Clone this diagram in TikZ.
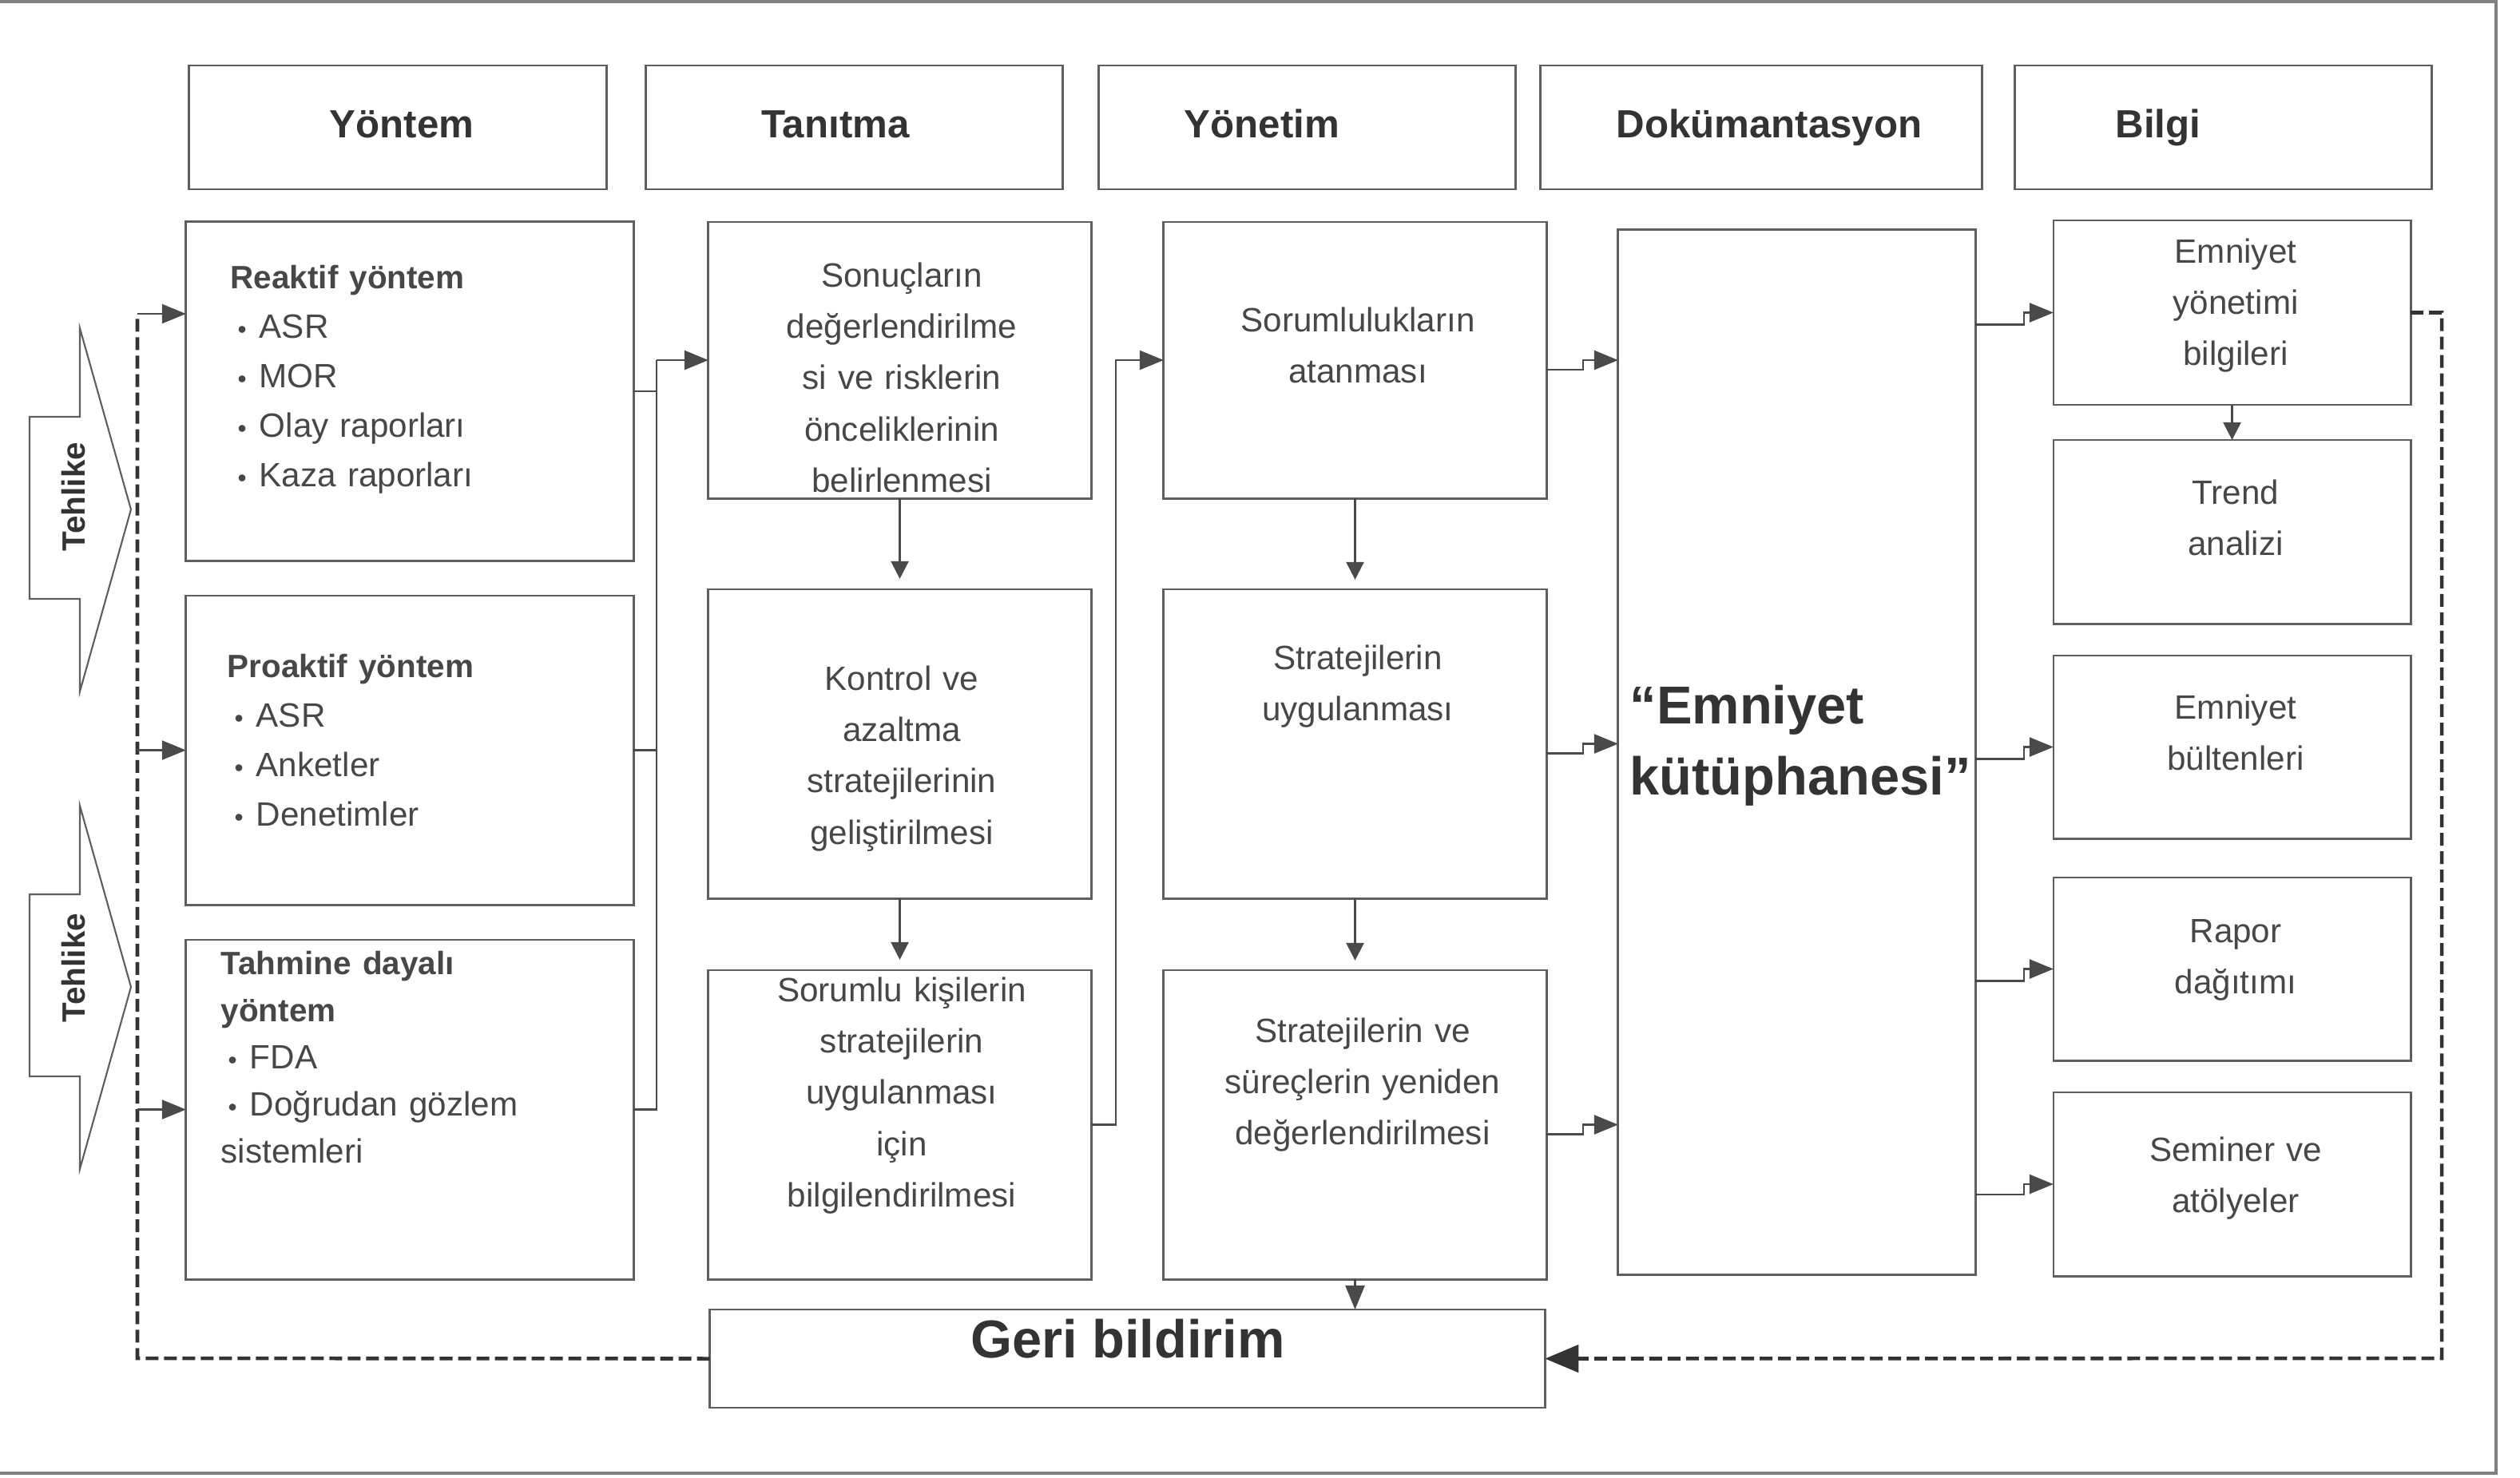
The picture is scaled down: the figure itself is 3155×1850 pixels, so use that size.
\documentclass[tikz,border=0pt]{standalone}
\usepackage{fontspec}
\setmainfont{Liberation Sans}
\usetikzlibrary{arrows.meta}
\definecolor{boxc}{HTML}{5E5E5E}
\definecolor{txt}{HTML}{333333}
\definecolor{txtl}{HTML}{474747}
\definecolor{linec}{HTML}{4A4A4A}
\newcommand{\bul}{\hspace*{0.09cm}{\fontsize{9}{9}\selectfont •}\hspace{0.16cm}}
\begin{document}
\begin{tikzpicture}[x=0.01cm,y=-0.01cm,
  box/.style={draw=boxc,line width=0.8pt,inner sep=0pt,outer sep=0pt},
  hdr/.style={font=\fontsize{14}{16}\selectfont\bfseries,text=txt,inner sep=0pt,anchor=base},
  ltxt/.style={font=\fontsize{12}{17.7}\selectfont,text=txtl,inner sep=0pt,anchor=base west,align=left,text width=5cm},
  ctxt/.style={font=\fontsize{12}{18.3}\selectfont,text=txtl,inner sep=0pt,anchor=base,align=center,text width=4.4cm},
  conn/.style={draw=linec,line width=0.7pt},
  arr/.style={conn,-{Triangle[length=0.3cm,width=0.24cm]}},
  sarr/.style={conn,-{Triangle[length=0.22cm,width=0.22cm]}},
  fb/.style={draw=txt,line width=1.3pt,dash pattern=on 0.16cm off 0.07cm},
  hz/.style={draw=boxc,line width=0.6pt,fill=white},
  big/.style={font=\fontsize{19}{25.5}\selectfont\bfseries,text=txt,inner sep=0pt}
]
\useasboundingbox (0,0) rectangle (3155,1850);
\draw[draw=gray,line width=1.2pt] (0,2) -- (3125,2) -- (3125,1845) -- (0,1845);

% header boxes
\node[box,minimum width=5.22cm,minimum height=1.55cm] (h1) at (498,159.5) {};
\node[box,minimum width=5.21cm,minimum height=1.55cm] (h2) at (1069.5,159.5) {};
\node[box,minimum width=5.21cm,minimum height=1.55cm] (h3) at (1636.5,159.5) {};
\node[box,minimum width=5.52cm,minimum height=1.55cm] (h4) at (2205,159.5) {};
\node[box,minimum width=5.21cm,minimum height=1.55cm] (h5) at (2783.5,159.5) {};
\node[hdr] (h1t) at (503,172) {Yöntem};
\node[hdr] (h2t) at (1046,172) {Tanıtma};
\node[hdr] (h3t) at (1580,172) {Yönetim};
\node[hdr] (h4t) at (2215,172) {Dokümantasyon};
\node[hdr] (h5t) at (2702,172) {Bilgi};

% column 1
\node[box,minimum width=5.6cm,minimum height=4.24cm] (r1) at (513,490) {};
\node[box,minimum width=5.6cm,minimum height=3.87cm] (r2) at (513,939.5) {};
\node[box,minimum width=5.6cm,minimum height=4.25cm] (r3) at (513,1389.5) {};
% column 2
\node[box,minimum width=4.79cm,minimum height=3.46cm] (t1) at (1126.5,451) {};
\node[box,minimum width=4.79cm,minimum height=3.87cm] (t2) at (1126.5,931.5) {};
\node[box,minimum width=4.79cm,minimum height=3.87cm] (t3) at (1126.5,1408.5) {};
% column 3
\node[box,minimum width=4.79cm,minimum height=3.46cm] (m1) at (1696.5,451) {};
\node[box,minimum width=4.79cm,minimum height=3.87cm] (m2) at (1696.5,931.5) {};
\node[box,minimum width=4.79cm,minimum height=3.87cm] (m3) at (1696.5,1408.5) {};
% library
\node[box,minimum width=4.47cm,minimum height=13.08cm] (lib) at (2249.5,942) {};
% column 5
\node[box,minimum width=4.47cm,minimum height=2.31cm] (b1) at (2794.5,391.5) {};
\node[box,minimum width=4.47cm,minimum height=2.30cm] (b2) at (2794.5,666) {};
\node[box,minimum width=4.47cm,minimum height=2.29cm] (b3) at (2794.5,935.5) {};
\node[box,minimum width=4.47cm,minimum height=2.29cm] (b4) at (2794.5,1213.5) {};
\node[box,minimum width=4.47cm,minimum height=2.30cm] (b5) at (2794.5,1483) {};
% feedback box
\node[box,minimum width=10.45cm,minimum height=1.23cm] (geri) at (1411.5,1701.5) {};

% hazard arrows
\draw[hz] (37,522) -- (100,522) -- (100,411) -- (164,638) -- (100,866) -- (100,750) -- (37,750) -- cycle;
\draw[hz] (37,1120) -- (100,1120) -- (100,1009) -- (164,1236) -- (100,1464) -- (100,1348) -- (37,1348) -- cycle;
\node[font=\fontsize{11.5}{13}\selectfont\bfseries,text=txt,rotate=90,inner sep=0pt] (tz1) at (92,622) {Tehlike};
\node[font=\fontsize{11.5}{13}\selectfont\bfseries,text=txt,rotate=90,inner sep=0pt] (tz2) at (92,1212) {Tehlike};

% column 1 texts
\node[ltxt] (r1t) at (288,361) {{\fontsize{11.5}{17.7}\selectfont\bfseries Reaktif yöntem}\\
\bul ASR\\ \bul MOR\\ \bul Olay raporları\\ \bul Kaza raporları};
\node[ltxt] (r2t) at (284,848) {{\fontsize{11.5}{17.5}\selectfont\bfseries Proaktif yöntem}\\
\bul ASR\\ \bul Anketler\\ \bul Denetimler};
\node[ltxt,font=\fontsize{12}{16.8}\selectfont] (r3t) at (276,1220) {{\fontsize{11.5}{16.8}\selectfont\bfseries Tahmine dayalı}\\
{\fontsize{11.5}{16.8}\selectfont\bfseries yöntem}\\
\bul FDA\\ \bul Doğrudan gözlem\\ sistemleri};

% column 2 texts
\node[ctxt] (t1t) at (1129,359) {Sonuçların\\ değerlendirilme\\ si ve risklerin\\ önceliklerinin\\ belirlenmesi};
\node[ctxt] (t2t) at (1129,864) {Kontrol ve\\ azaltma\\ stratejilerinin\\ geliştirilmesi};
\node[ctxt] (t3t) at (1129,1254) {Sorumlu kişilerin\\ stratejilerin\\ uygulanması\\ için\\ bilgilendirilmesi};
% column 3 texts
\node[ctxt] (m1t) at (1700,415) {Sorumlulukların\\ atanması};
\node[ctxt] (m2t) at (1700,838) {Stratejilerin\\ uygulanması};
\node[ctxt] (m3t) at (1706,1305) {Stratejilerin ve\\ süreçlerin yeniden\\ değerlendirilmesi};
% library text
\node[big,anchor=base west,align=left,text width=4.3cm] (libt) at (2040,906) {“Emniyet\\ kütüphanesi”};
% column 5 texts
\node[ctxt,text width=4.2cm] (b1t) at (2799,329) {Emniyet\\ yönetimi\\ bilgileri};
\node[ctxt,text width=4.2cm] (b2t) at (2799,631) {Trend\\ analizi};
\node[ctxt,text width=4.2cm] (b3t) at (2799,900) {Emniyet\\ bültenleri};
\node[ctxt,text width=4.2cm] (b4t) at (2799,1180) {Rapor\\ dağıtımı};
\node[ctxt,text width=4.2cm] (b5t) at (2799,1454) {Seminer ve\\ atölyeler};
% feedback text
\node[big,anchor=base] (gerit) at (1412,1700) {Geri bildirim};

% feedback loop left
\coordinate (fbT) at (172,393);
\coordinate (fbL) at (172,1701);
\draw[fb] (geri.west) -- (fbL) -- (fbT);
\draw[arr] (fbT) -- (fbT -| r1.west);
\draw[arr] (fbT |- r2.west) -- (r2.west);
\draw[arr] (fbT |- r3.west) -- (r3.west);
% feedback loop right
\coordinate (fbR) at (3057,1701);
\draw[fb,-{Triangle[length=0.42cm,width=0.34cm]}] (b1.east) -| (fbR) -- (geri.east);

% column 1 bracket
\coordinate (jA) at (822,451);
\draw[conn] (r1.east) -- (r1.east -| jA);
\draw[conn] (r2.east) -- (r2.east -| jA);
\draw[conn] (r3.east) -| (jA);
\draw[arr] (jA) -- (t1.west);

% column 2 vertical
\draw[sarr,shorten >=0.13cm] (t1.south) -- (t2.north);
\draw[sarr,shorten >=0.13cm] (t2.south) -- (t3.north);

% t3 -> m1
\coordinate (jB) at (1397,451);
\draw[arr] (t3.east) -| (jB) -- (m1.west);

% column 3 vertical
\draw[sarr,shorten >=0.12cm] (m1.south) -- (m2.north);
\draw[sarr,shorten >=0.12cm] (m2.south) -- (m3.north);
\draw[arr] (m3.south) -- (m3.south |- geri.north);

% column 3 -> library
\draw[arr] ([yshift=-0.12cm]m1.east) -- ++(46,0) |- (lib.west |- m1.east);
\draw[arr] ([yshift=-0.12cm]m2.east) -- ++(46,0) |- (lib.west |- m2.east);
\draw[arr] ([yshift=-0.12cm]m3.east) -- ++(46,0) |- (lib.west |- m3.east);

% library -> column 5
\coordinate (lb1) at (lib.east |- b1.west);
\coordinate (lb3) at (lib.east |- b3.west);
\coordinate (lb4) at (lib.east |- b4.west);
\coordinate (lb5) at (lib.east |- b5.west);
\draw[arr] ([yshift=-0.15cm]lb1) -- ++(61,0) |- (b1.west);
\draw[arr] ([yshift=-0.15cm]lb3) -- ++(61,0) |- (b3.west);
\draw[arr] ([yshift=-0.15cm]lb4) -- ++(61,0) |- (b4.west);
\draw[arr] ([yshift=-0.13cm]lb5) -- ++(61,0) |- (b5.west);
% b1 -> b2
\draw[sarr] (b1.south) -- (b2.north);
\end{tikzpicture}
\end{document}
